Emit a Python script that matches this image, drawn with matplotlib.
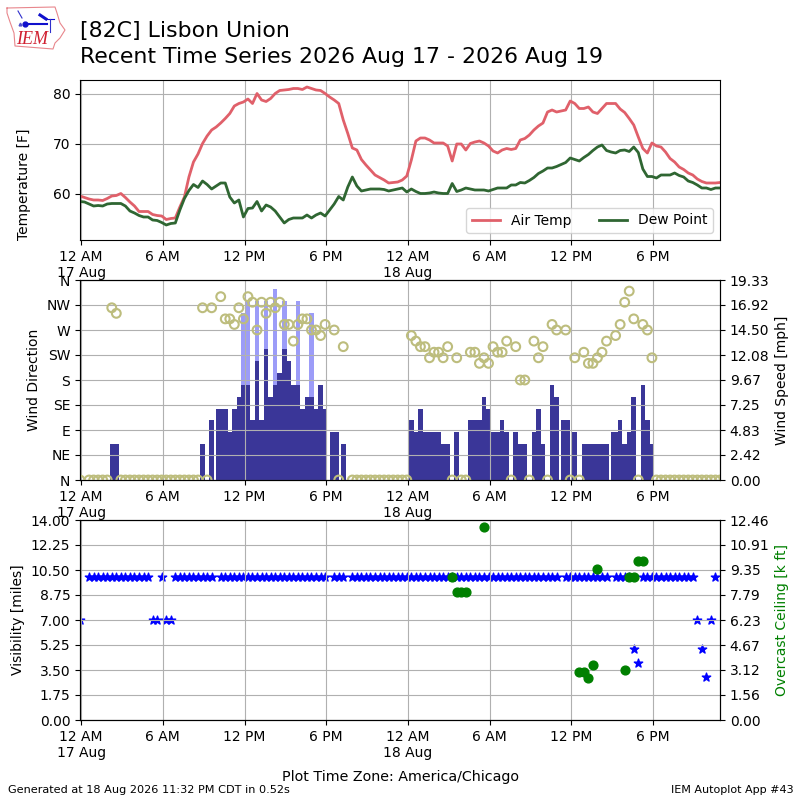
import numpy as np
import pandas as pd
import matplotlib
matplotlib.use("Agg")
import matplotlib.pyplot as plt
import matplotlib.dates as mdates

nan = float("nan")

# observations every 20 min (:15 :35 :55 local)
times = pd.date_range("2026-08-16 23:55", "2026-08-18 22:55", freq="20min")

air_temp = [
    59.5, 59.2, 58.9, 58.7, 58.7, 58.6, 59.0, 59.5, 59.6, 60.0,
    59.2, 58.3, 57.5, 56.4, 56.4, 56.4, 55.8, 55.6, 55.5, 54.8,
    55.0, 55.1, 57.3, 59.3, 63.3, 66.3, 67.9, 70.0, 71.5, 72.7,
    73.3, 74.1, 75.0, 76.0, 77.5, 78.0, 78.3, 78.9, 78.0, 80.0,
    78.7, 78.4, 79.0, 80.0, 80.6, 80.7, 80.8, 81.0, 81.0, 80.8,
    81.3, 81.0, 80.7, 80.6, 80.0, 79.3, 78.7, 78.0, 74.7, 72.0,
    69.1, 68.7, 66.8, 65.7, 64.7, 63.7, 63.2, 62.7, 62.1, 62.2,
    62.3, 62.7, 63.5, 66.7, 70.5, 71.1, 71.1, 70.7, 70.1, 70.1,
    70.1, 69.5, 66.5, 69.9, 69.9, 68.7, 70.0, 70.3, 70.5, 70.1,
    69.5, 68.5, 68.1, 68.7, 69.0, 68.8, 69.0, 70.7, 71.0, 71.7,
    72.7, 73.5, 74.1, 76.3, 76.7, 76.3, 76.5, 76.7, 78.5, 78.0,
    77.0, 77.0, 77.3, 76.3, 76.0, 77.0, 78.0, 78.0, 78.0, 76.9,
    76.2, 75.0, 73.7, 71.3, 69.0, 68.1, 70.1, 69.5, 69.3, 68.3,
    67.0, 66.3, 65.3, 64.8, 64.1, 63.7, 62.9, 62.4, 62.1, 62.1,
    62.1, 62.2,
]
dew_point = [
    58.4, 58.3, 57.9, 57.5, 57.6, 57.5, 57.9, 58.0, 58.0, 58.0,
    57.5, 56.5, 56.1, 55.6, 55.3, 55.3, 54.7, 54.6, 54.2, 53.7,
    54.0, 54.1, 56.7, 59.0, 60.6, 61.8, 61.2, 62.5, 61.8, 60.9,
    61.5, 62.1, 62.1, 59.3, 58.1, 58.7, 55.3, 57.0, 57.1, 58.4,
    56.5, 57.7, 57.3, 56.5, 55.3, 54.1, 54.8, 55.1, 55.1, 55.1,
    55.7, 55.1, 55.7, 56.1, 55.5, 56.7, 57.9, 59.4, 58.7, 61.3,
    63.3, 61.5, 60.5, 60.7, 60.9, 60.9, 60.9, 60.8, 60.5, 60.7,
    60.9, 61.1, 60.3, 60.9, 60.4, 60.0, 60.0, 60.1, 60.3, 60.1,
    60.0, 60.0, 62.0, 60.4, 60.7, 61.1, 60.9, 60.7, 60.7, 60.7,
    60.5, 60.8, 61.1, 61.1, 61.1, 61.7, 61.7, 62.2, 62.1, 62.6,
    63.2, 64.0, 64.5, 65.1, 65.1, 65.4, 65.8, 66.2, 67.1, 66.8,
    66.5, 67.2, 67.8, 68.6, 69.3, 69.7, 68.6, 68.3, 68.1, 68.6,
    68.7, 68.4, 69.3, 68.2, 64.9, 63.4, 63.4, 63.1, 63.7, 63.7,
    63.7, 64.1, 63.6, 63.3, 62.5, 62.2, 61.7, 61.1, 61.1, 60.8,
    61.1, 61.1,
]
wind_kt = [
    0, nan, 0, 0, 0, 0, 0, 3, 3, 0,
    0, 0, 0, 0, 0, 0, 0, 0, 0, 0,
    0, 0, 0, 0, 0, 0, 0, 3, 0, 5,
    nan, 6, 6, 4, 6, 7, 8, 8, 5, 10,
    5, 11, 7, 8, 9, 11, 10, 8, 8, 6,
    7, 7, 6, 8, 6, nan, 4, 0, 3, nan,
    0, 0, 0, 0, 0, 0, 0, 0, 0, 0,
    0, 0, 0, 5, 4, 6, 4, 4, 4, 4,
    3, 3, 0, 4, 0, 0, 5, 5, 5, 7,
    6, 4, 4, 5, 4, 0, 4, 3, 3, 0,
    4, 6, 3, 0, 8, 7, nan, 5, 0, 4,
    0, 3, 3, 3, 3, 3, 3, nan, 4, 5,
    3, 4, 7, 0, 8, 5, 3, 0, 0, 0,
    0, 0, 0, 0, 0, 0, 0, 0, 0, 0,
    0, 0,
]
wind_dir = [
    0, nan, 0, 0, 0, 0, 0, 310, 300, 0,
    0, 0, 0, 0, 0, 0, 0, 0, 0, 0,
    0, 0, 0, 0, 0, 0, 0, 310, 0, 310,
    nan, 330, 290, 290, 280, 310, 290, 330, 320, 270,
    320, 300, 320, 310, 320, 280, 280, 250, 280, 290,
    290, 270, 270, 260, 280, nan, 270, 0, 240, nan,
    0, 0, 0, 0, 0, 0, 0, 0, 0, 0,
    0, 0, 0, 260, 250, 240, 240, 220, 230, 230,
    220, 240, 0, 220, 0, 0, 230, 230, 210, 220,
    210, 240, 230, 230, 250, 0, 240, 180, 180, 0,
    250, 220, 240, 0, 280, 270, nan, 270, 0, 220,
    0, 230, 210, 210, 220, 230, 250, nan, 260, 280,
    320, 340, 290, 0, 280, 270, 220, 0, 0, 0,
    0, 0, 0, 0, 0, 0, 0, 0, 0, 0,
    0, 0,
]
# obs where the bar covers two slots in the reference
wide_bars = [31, 33, 56, 107, 118]
gust_obs = [36, 37, 39, 41, 43, 45, 48, 51]
gust_kt = [14, 15, 15, 15, 16, 15, 15, 14]

visibility = [
    7, nan, 10, 10, 10, 10, 10, 10, 10, 10,
    10, 10, 10, 10, 10, 10, 7, 7, 10, 7,
    7, 10, 10, 10, 10, 10, 10, 10, 10, 10,
    nan, 10, 10, 10, 10, 10, 10, 10, 10, 10,
    10, 10, 10, 10, 10, 10, 10, 10, 10, 10,
    10, 10, 10, 10, 10, nan, 10, 10, 10, nan,
    10, 10, 10, 10, 10, 10, 10, 10, 10, 10,
    10, 10, 10, 10, 10, 10, 10, 10, 10, 10,
    10, 10, 10, 10, 10, 10, 10, 10, 10, 10,
    10, 10, 10, 10, 10, 10, 10, 10, 10, 10,
    10, 10, 10, 10, 10, 10, nan, 10, 10, 10,
    10, 10, 10, 10, 10, 10, 10, nan, 10, 10,
    10, 10, 5, 4, 10, 10, 10, 10, 10, 10,
    10, 10, 10, 10, 10, 10, 7, 5, 3, 7,
    10, nan,
]
ceiling_obs = [82, 83, 84, 85, 89, 110, 111, 112, 113, 114, 120, 121, 122, 123, 124]
ceiling_kft = [8.9, 8.0, 8.0, 8.0, 12.0, 3.0, 3.0, 2.6, 3.4, 9.4, 3.1, 8.9, 8.9, 9.9, 9.9]

tick_times = pd.date_range("2026-08-17 00:00", "2026-08-18 18:00", freq="6h")
tick_labels = ["12 AM\n17 Aug", "6 AM", "12 PM", "6 PM", "12 AM\n18 Aug", "6 AM", "12 PM", "6 PM"]
dir_ticks = [0, 45, 90, 135, 180, 225, 270, 315, 360]
dir_labels = ["N", "NE", "E", "SE", "S", "SW", "W", "NW", "N"]
speed_ticks = [0.00, 2.42, 4.83, 7.25, 9.67, 12.08, 14.50, 16.92, 19.33]
vis_ticks = [0.00, 1.75, 3.50, 5.25, 7.00, 8.75, 10.50, 12.25, 14.00]
ceil_ticks = [0.00, 1.56, 3.12, 4.67, 6.23, 7.79, 9.35, 10.91, 12.46]

KT2MPH = 1.15078
tnum = mdates.date2num(times)
slot = 20.0 / 1440.0


def fix_time_axis(ax):
    ax.set_xlim(times[0], times[-1])
    ax.set_xticks(tick_times)
    ax.set_xticklabels(tick_labels)


fig = plt.figure(figsize=(8, 8), dpi=100)

# logo, roughly in figure pixels
logo = fig.add_axes([0, 0.93, 0.1, 0.07])
logo.set_xlim(0, 80)
logo.set_ylim(56, 0)
logo.axis("off")
logo.plot([7, 55, 57, 60, 65, 60, 55, 53, 15, 14, 10, 7, 7],
          [8, 7, 13, 23, 30, 38, 43, 49, 46, 33, 22, 13, 8],
          color="#e8868c", lw=0.8)
logo.plot([25, 47], [23.5, 23.5], color="#1010cc", lw=1.5)
logo.plot([40, 46], [15, 19], color="#1010cc", lw=2.2)
logo.plot([46, 54], [19, 19], color="#1010cc", lw=0.8)
logo.plot([18, 22], [11, 18], color="#3030cc", lw=0.8)
logo.plot([50, 50], [19, 32], color="#3030cc", lw=0.8)
logo.plot([25], [23.5], "o", color="#1010cc", ms=3.5)
logo.plot([20], [24], "^", color="#5050cc", ms=2)
logo.text(16, 39, "IEM", color="#d02030", fontsize=13, style="italic",
          family="Liberation Serif", va="center")

fig.text(0.1, 0.9615, "[82C] Lisbon Union", fontsize=15.8, va="center")
fig.text(0.1, 0.929, "Recent Time Series 2026 Aug 17 - 2026 Aug 19", fontsize=15.8, va="center")
fig.text(0.01, 0.0125, "Generated at 18 Aug 2026 11:32 PM CDT in 0.52s", fontsize=8.15, va="center")
fig.text(0.992, 0.0125, "IEM Autoplot App #43", fontsize=8, va="center", ha="right")

# temperature
ax1 = fig.add_axes([0.1, 0.7, 0.8, 0.2])
ax1.plot(times, air_temp, color="#e0606a", lw=2, label="Air Temp")
ax1.plot(times, dew_point, color="#2f6632", lw=2, label="Dew Point")
ax1.set_ylim(50.7, 82.7)
ax1.set_yticks([60, 70, 80])
ax1.set_ylabel("Temperature [F]", loc="bottom")
ax1.yaxis.set_label_coords(-0.077, 0)
ax1.grid(True)
fix_time_axis(ax1)
ax1.legend(loc="lower right", ncol=2)

# wind: bars live on the axes holding the grid so the grid shows over them
ax2 = fig.add_axes([0.1, 0.4, 0.8, 0.25])
gust_mph = np.array(gust_kt) * KT2MPH
ax2.bar(tnum[gust_obs], gust_mph, width=slot, color="#9c9cf8", linewidth=0)
widths = np.full(len(times), slot)
widths[wide_bars] = 2 * slot
ax2.bar(tnum, np.array(wind_kt) * KT2MPH, width=widths, color="#3a3698", linewidth=0)
ax2.grid(True)
fix_time_axis(ax2)

ax2d = ax2.twinx()
ax2d.scatter(tnum, wind_dir, s=40, facecolor="none", edgecolor="#bdbd7d", linewidths=1.5)
ax2d.set_ylim(0, 360)
ax2d.set_yticks(dir_ticks)
ax2d.set_yticklabels(dir_labels)
ax2d.yaxis.tick_left()
ax2d.yaxis.set_label_position("left")
ax2d.set_ylabel("Wind Direction")
ax2d.yaxis.set_label_coords(-0.061, 0.5)
fix_time_axis(ax2d)

# twinx moves the ticks of ax2, so set the right side up after it
ax2.set_ylim(0, 19.33)
ax2.set_yticks(speed_ticks)
ax2.set_yticklabels(["%.2f" % v for v in speed_ticks])
ax2.yaxis.tick_right()
ax2.yaxis.set_label_position("right")
ax2.set_ylabel("Wind Speed [mph]")

# visibility + ceiling
ax3 = fig.add_axes([0.1, 0.1, 0.8, 0.25])
ax3.scatter(tnum, visibility, s=40, color="b", marker="*")
ax3.set_ylim(0, 14)
ax3.set_yticks(vis_ticks)
ax3.set_yticklabels(["%.2f" % v for v in vis_ticks])
ax3.set_ylabel("Visibility [miles]")
ax3.set_xlabel("Plot Time Zone: America/Chicago", fontsize=10.3, labelpad=7)
ax3.grid(True)
fix_time_axis(ax3)

ax3c = ax3.twinx()
ax3c.scatter(tnum[ceiling_obs], ceiling_kft, s=40, color="g", marker="o")
ax3c.set_ylim(0, 12.46)
ax3c.set_yticks(ceil_ticks)
ax3c.set_yticklabels(["%.2f" % v for v in ceil_ticks])
ax3c.set_ylabel("Overcast Ceiling [k ft]", color="g")
fix_time_axis(ax3c)

fig.savefig("out.png", dpi=100)
